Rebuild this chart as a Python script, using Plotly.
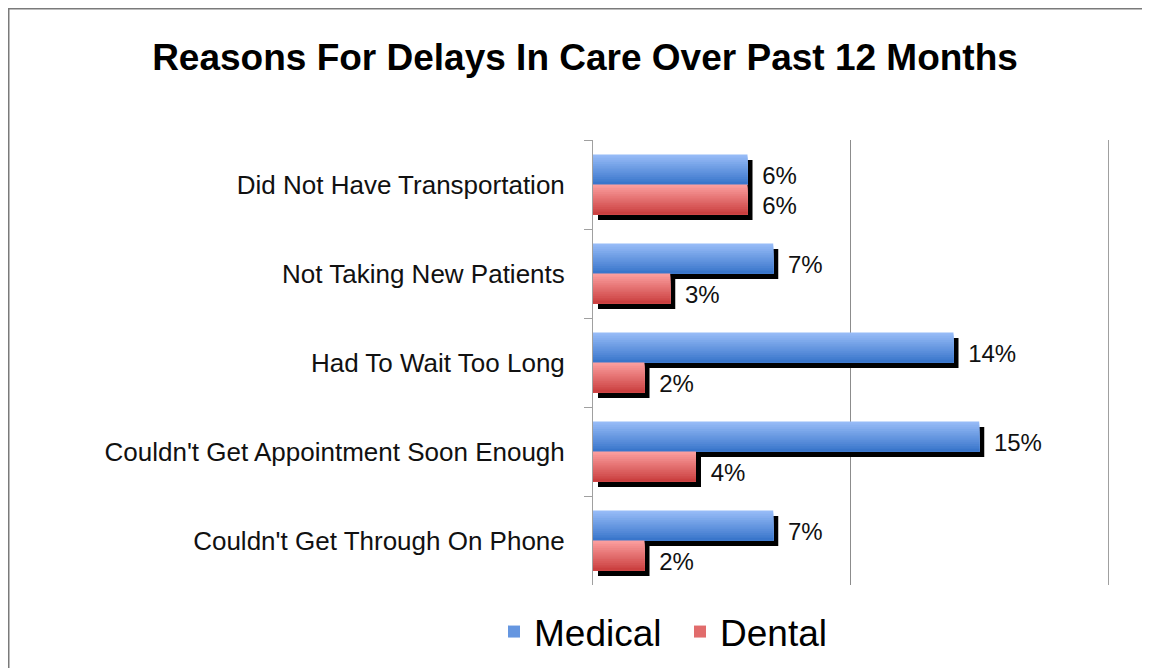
import plotly.graph_objects as go

categories = ["Did Not Have Transportation", "Not Taking New Patients", "Had To Wait Too Long",
              "Couldn't Get Appointment Soon Enough", "Couldn't Get Through On Phone"]
medical = [6, 7, 14, 15, 7]
dental = [6, 3, 2, 4, 2]
series_names = ["Medical", "Dental"]

# page is offset by the browser's 8px body margin
W, H = 1142, 660
L, R, T, B = 585, 42, 132, 83
pw, ph = W - L - R, H - T - B
x_max = 20
px_x = x_max / pw                  # data units per pixel (x)
px_y = len(categories) / ph        # category units per pixel (y)

bar_w = 30 * px_y
sh_dx, sh_dy = 5 * px_x, 5.5 * px_y
NSTRIP = 16

grad = {
    "Medical": ((0x96, 0xbb, 0xf7), (0x3a, 0x76, 0xcb)),
    "Dental": ((0xfb, 0x9e, 0x9e), (0xcb, 0x40, 0x40)),
}
LABEL_FONT = "Liberation Sans Narrow, Liberation Sans, Arial"

fig = go.Figure()
vals = {"Medical": medical, "Dental": dental}
offsets = {"Medical": -bar_w, "Dental": 0.0}

# shadows (drawn first, behind bars) carrying the value labels
for name in series_names:
    v = vals[name]
    fig.add_trace(go.Bar(
        y=categories, x=v, base=[sh_dx] * len(v), orientation="h",
        offset=offsets[name] + sh_dy, width=bar_w,
        marker=dict(color="black", line=dict(width=0)),
        text=[f" {x}%" for x in v], textposition="outside",
        textfont=dict(family=LABEL_FONT, size=24, color="#111"),
        constraintext="none", cliponaxis=False, showlegend=False, hoverinfo="skip",
    ))

# gradient bars: each strip runs from its top down to the bar bottom
for name in series_names:
    v = vals[name]
    c0, c1 = grad[name]
    sw = bar_w / NSTRIP
    for k in range(NSTRIP):
        t = k / (NSTRIP - 1)
        c = tuple(int(round(a + (b - a) * t)) for a, b in zip(c0, c1))
        col = "rgb(%d,%d,%d)" % c
        fig.add_trace(go.Bar(
            y=categories, x=v, orientation="h",
            offset=offsets[name] + k * sw, width=bar_w - k * sw,
            marker=dict(color=col, line=dict(width=0)),
            name=name, showlegend=(k == NSTRIP // 2), legendgroup=name,
            hoverinfo="skip",
        ))


def pxx(p):
    return (p - L) / pw


def pxy(p):
    return (H - B - p) / ph


shapes = [
    dict(type="line", xref="paper", yref="paper", x0=pxx(0.5), x1=pxx(0.5), y0=pxy(0), y1=pxy(H + 5),
         line=dict(color="#7a7a7a", width=2)),
    dict(type="line", xref="paper", yref="paper", x0=pxx(-1), x1=pxx(W + 5), y0=pxy(0.5), y1=pxy(0.5),
         line=dict(color="#7a7a7a", width=2)),
]

fig.update_layout(
    width=W, height=H,
    margin=dict(l=L, r=R, t=T, b=B, autoexpand=False),
    paper_bgcolor="white", plot_bgcolor="white",
    barmode="overlay",
    title=dict(text="<b>Reasons For Delays In Care Over Past 12 Months</b>",
               x=577 / W, xanchor="center", y=1 - 49 / H, yanchor="middle",
               font=dict(family="Liberation Sans, Arial", size=37, color="black")),
    xaxis=dict(range=[0, x_max], dtick=10, showgrid=True, gridcolor="#8c8c8c", gridwidth=1,
               showticklabels=False, zeroline=False, showline=False, fixedrange=True),
    yaxis=dict(autorange="reversed", showline=True, mirror=True, linecolor="#a0a0a0", linewidth=1,
               ticks="outside", tickson="boundaries", ticklen=8, tickcolor="#a0a0a0",
               ticklabelstandoff=22,
               tickfont=dict(family=LABEL_FONT, size=26, color="#111"),
               showgrid=False, zeroline=False),
    legend=dict(orientation="h", x=pxx(672), xanchor="center", y=pxy(624), yanchor="middle",
                font=dict(family="Liberation Sans, Arial", size=37, color="black"),
                entrywidth=141, entrywidthmode="pixels",
                bgcolor="rgba(0,0,0,0)"),
    shapes=shapes,
    showlegend=True,
)

fig.write_html("out.html")
